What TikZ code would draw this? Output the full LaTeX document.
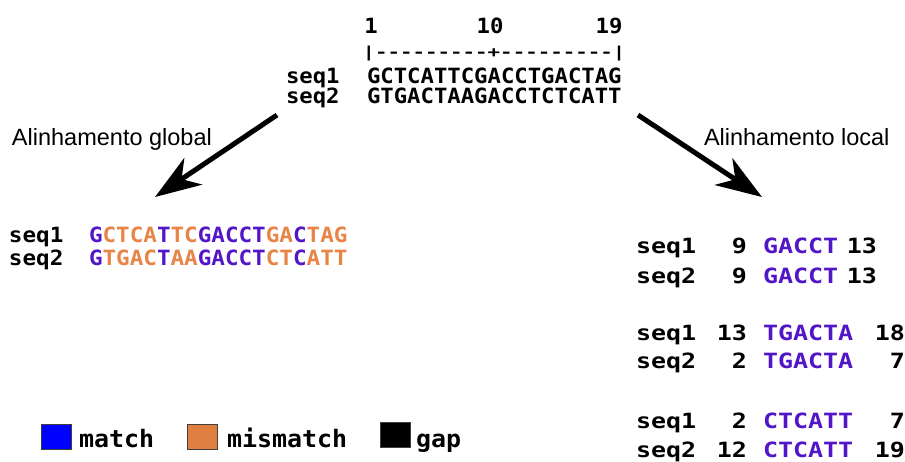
\documentclass[tikz,border=0pt]{standalone}
\usepackage{fontspec}
\setmainfont{Liberation Sans}
\newfontfamily\monoTop[FakeStretch=1.06]{DejaVu Sans Mono}
\newfontfamily\monoGlob[FakeStretch=1.076]{DejaVu Sans Mono}
\newfontfamily\monoLoc[FakeStretch=1.19]{DejaVu Sans Mono}
\newfontfamily\monoRule[FakeStretch=1.385]{DejaVu Sans Mono}
\newfontfamily\monoLeg[FakeStretch=1.04]{DejaVu Sans Mono}
\usetikzlibrary{arrows.meta}
\definecolor{mcol}{RGB}{82,22,200}
\definecolor{xcol}{RGB}{232,132,70}
\definecolor{legorange}{RGB}{224,128,64}
\newcommand{\Mt}[1]{\textcolor{mcol}{#1}}
\newcommand{\Xt}[1]{\textcolor{xcol}{#1}}
\begin{document}
\begin{tikzpicture}[x=1pt,y=-1pt,
  t/.style={inner sep=0pt, outer sep=0pt},
  toptxt/.style={t, font=\monoTop\bfseries\fontsize{21pt}{21pt}\selectfont},
  globtxt/.style={t, font=\monoGlob\bfseries\fontsize{21pt}{21pt}\selectfont},
  loctxt/.style={t, font=\monoLoc\bfseries\fontsize{21pt}{21pt}\selectfont},
  ruletxt/.style={t, font=\monoRule\bfseries\fontsize{15pt}{15pt}\selectfont},
  legtxt/.style={t, font=\monoLeg\bfseries\fontsize{24pt}{24pt}\selectfont},
  caption/.style={t, font=\fontsize{23.5pt}{23.5pt}\selectfont},
  legbox/.style={draw=black!75, line width=1pt, minimum width=30pt, minimum height=25pt, inner sep=0pt},
  bigarrow/.style={line width=5pt, -{Stealth[length=46pt, width=32pt, inset=14pt]}}
]
\fill[white] (0,0) rectangle (905,461);
\useasboundingbox (0,0) rectangle (905,461);

% top: ruler and sequences
\node[toptxt, anchor=base] (p1) at (371,33) {1};
\node[toptxt, anchor=base] (p10) at (490,33) {10};
\node[toptxt, anchor=base] (p19) at (609,33) {19};
\node[ruletxt, anchor=base] (ruler) at (494,57) {|---------+---------|};
\node[toptxt, anchor=base west] (ts1) at (286,83) {seq1};
\node[toptxt, anchor=base west] (tq1) at (367,83) {GCTCATTCGACCTGACTAG};
\node[toptxt, anchor=base west] (ts2) at (286,103) {seq2};
\node[toptxt, anchor=base west] (tq2) at (367,103) {GTGACTAAGACCTCTCATT};

% captions and arrows
\node[caption, anchor=base west] (capg) at (12,145) {Alinhamento global};
\node[caption, anchor=base west] (capl) at (704,145) {Alinhamento local};
\coordinate (gtail) at (277,115);
\coordinate (ghead) at (155,197);
\coordinate (ltail) at (638,115);
\coordinate (lhead) at (762,197);
\draw[bigarrow] (gtail) -- (ghead);
\draw[bigarrow] (ltail) -- (lhead);

% global alignment
\node[globtxt, anchor=base west] (gs1) at (9,242) {seq1};
\node[globtxt, anchor=base west] (gq1) at (89,242) {\Mt{G}\Xt{CTCA}\Mt{T}\Xt{TC}\Mt{GACCT}\Xt{GA}\Mt{C}\Xt{TAG}};
\node[globtxt, anchor=base west] (gs2) at (9,265) {seq2};
\node[globtxt, anchor=base west] (gq2) at (89,265) {\Mt{G}\Xt{TGAC}\Mt{T}\Xt{AA}\Mt{GACCT}\Xt{CT}\Mt{C}\Xt{ATT}};

% local alignments
\node[loctxt, anchor=base west] (l1s) at (636,253) {seq1};
\node[loctxt, anchor=base east] (l1a) at (747,253) {9};
\node[loctxt, anchor=base west] (l1q) at (763,253) {\Mt{GACCT}};
\node[loctxt, anchor=base east] (l1b) at (877,253) {13};

\node[loctxt, anchor=base west] (l2s) at (636,283) {seq2};
\node[loctxt, anchor=base east] (l2a) at (747,283) {9};
\node[loctxt, anchor=base west] (l2q) at (763,283) {\Mt{GACCT}};
\node[loctxt, anchor=base east] (l2b) at (877,283) {13};

\node[loctxt, anchor=base west] (l3s) at (636,340) {seq1};
\node[loctxt, anchor=base east] (l3a) at (747,340) {13};
\node[loctxt, anchor=base west] (l3q) at (763,340) {\Mt{TGACTA}};
\node[loctxt, anchor=base east] (l3b) at (905,340) {18};

\node[loctxt, anchor=base west] (l4s) at (636,368) {seq2};
\node[loctxt, anchor=base east] (l4a) at (747,368) {2};
\node[loctxt, anchor=base west] (l4q) at (763,368) {\Mt{TGACTA}};
\node[loctxt, anchor=base east] (l4b) at (905,368) {7};

\node[loctxt, anchor=base west] (l5s) at (636,428) {seq1};
\node[loctxt, anchor=base east] (l5a) at (747,428) {2};
\node[loctxt, anchor=base west] (l5q) at (763,428) {\Mt{CTCATT}};
\node[loctxt, anchor=base east] (l5b) at (905,428) {7};

\node[loctxt, anchor=base west] (l6s) at (636,457) {seq2};
\node[loctxt, anchor=base east] (l6a) at (747,457) {12};
\node[loctxt, anchor=base west] (l6q) at (763,457) {\Mt{CTCATT}};
\node[loctxt, anchor=base east] (l6b) at (905,457) {19};

% legend
\node[legbox, fill=blue] (kmatch) at (56,436.5) {};
\node[legtxt, anchor=base west] (tmatch) at (79,447) {match};
\node[legbox, fill=legorange] (kmis) at (202,436.5) {};
\node[legtxt, anchor=base west] (tmis) at (227,447) {mismatch};
\node[legbox, fill=black] (kgap) at (395,435) {};
\node[legtxt, anchor=base west] (tgap) at (416,447) {gap};
\end{tikzpicture}
\end{document}
